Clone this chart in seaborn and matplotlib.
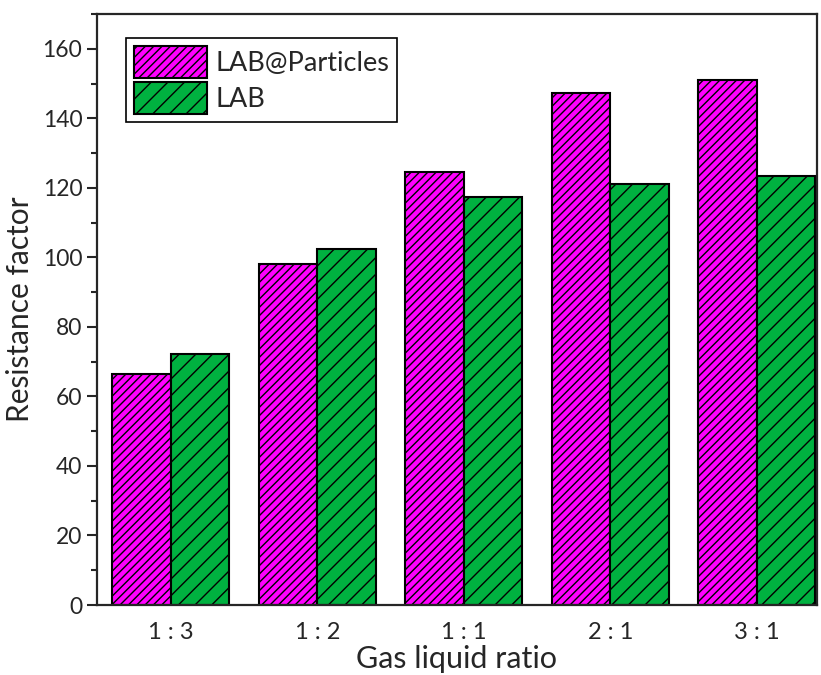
import pandas as pd
import seaborn as sns
import matplotlib.pyplot as plt
from matplotlib.ticker import MultipleLocator

rapporti = ["1 : 3", "1 : 2", "1 : 1", "2 : 1", "3 : 1"]
lab_particles = [66.4, 98.1, 124.6, 147.4, 151.1]
lab = [72.1, 102.4, 117.5, 121.2, 123.5]
serie = ["LAB@Particles", "LAB"]

data = pd.DataFrame({
    "ratio": rapporti * 2,
    "value": lab_particles + lab,
    "sample": [serie[0]] * len(rapporti) + [serie[1]] * len(rapporti),
})

sns.set_style("ticks")
plt.rcParams['font.family'] = ['Lato', 'DejaVu Sans']
plt.rcParams['hatch.linewidth'] = 1.0

fig = plt.figure(figsize=(8.21, 6.75), dpi=100)
ax = fig.add_axes([0.118, 0.1037, 0.877, 0.8753])

colori = {"LAB@Particles": "#ff00ff", "LAB": "#00b140"}
sns.barplot(data=data, x="ratio", y="value", hue="sample", order=rapporti,
            hue_order=serie, palette=colori, saturation=1, width=0.8, ax=ax,
            edgecolor="black", linewidth=1.5, legend=False)

tratteggi = ["////", "//"]
for cont, h in zip(ax.containers, tratteggi):
    for p in cont.patches:
        p.set_hatch(h)
        p.set_edgecolor("black")

ax.set_xlim(-0.505, 4.41)
ax.set_ylim(0, 170)
ax.yaxis.set_major_locator(MultipleLocator(20))
ax.yaxis.set_minor_locator(MultipleLocator(10))
ax.tick_params(axis='y', which='major', length=7, width=1.5, labelsize=16.5, direction='out')
ax.tick_params(axis='y', which='minor', length=4, width=1.5, direction='out')
ax.tick_params(axis='x', length=0, labelsize=17, pad=12)
for s in ax.spines.values():
    s.set_linewidth(1.6)
    s.set_visible(True)

ax.set_xlabel("Gas liquid ratio", fontsize=22, labelpad=2)
ax.set_ylabel("Resistance factor", fontsize=21.5)
ax.yaxis.set_label_coords(-0.088, 0.5)

leg = ax.legend(ax.containers, serie, loc='upper left', bbox_to_anchor=(0.04, 0.96),
                borderaxespad=0, fontsize=19.5, handlelength=2.7, handleheight=1.45,
                fancybox=False, framealpha=1, edgecolor='black', labelspacing=0.15,
                handletextpad=0.3, borderpad=0.3)
leg.get_frame().set_linewidth(1.2)

plt.savefig("out.png", dpi=100)
plt.close()
